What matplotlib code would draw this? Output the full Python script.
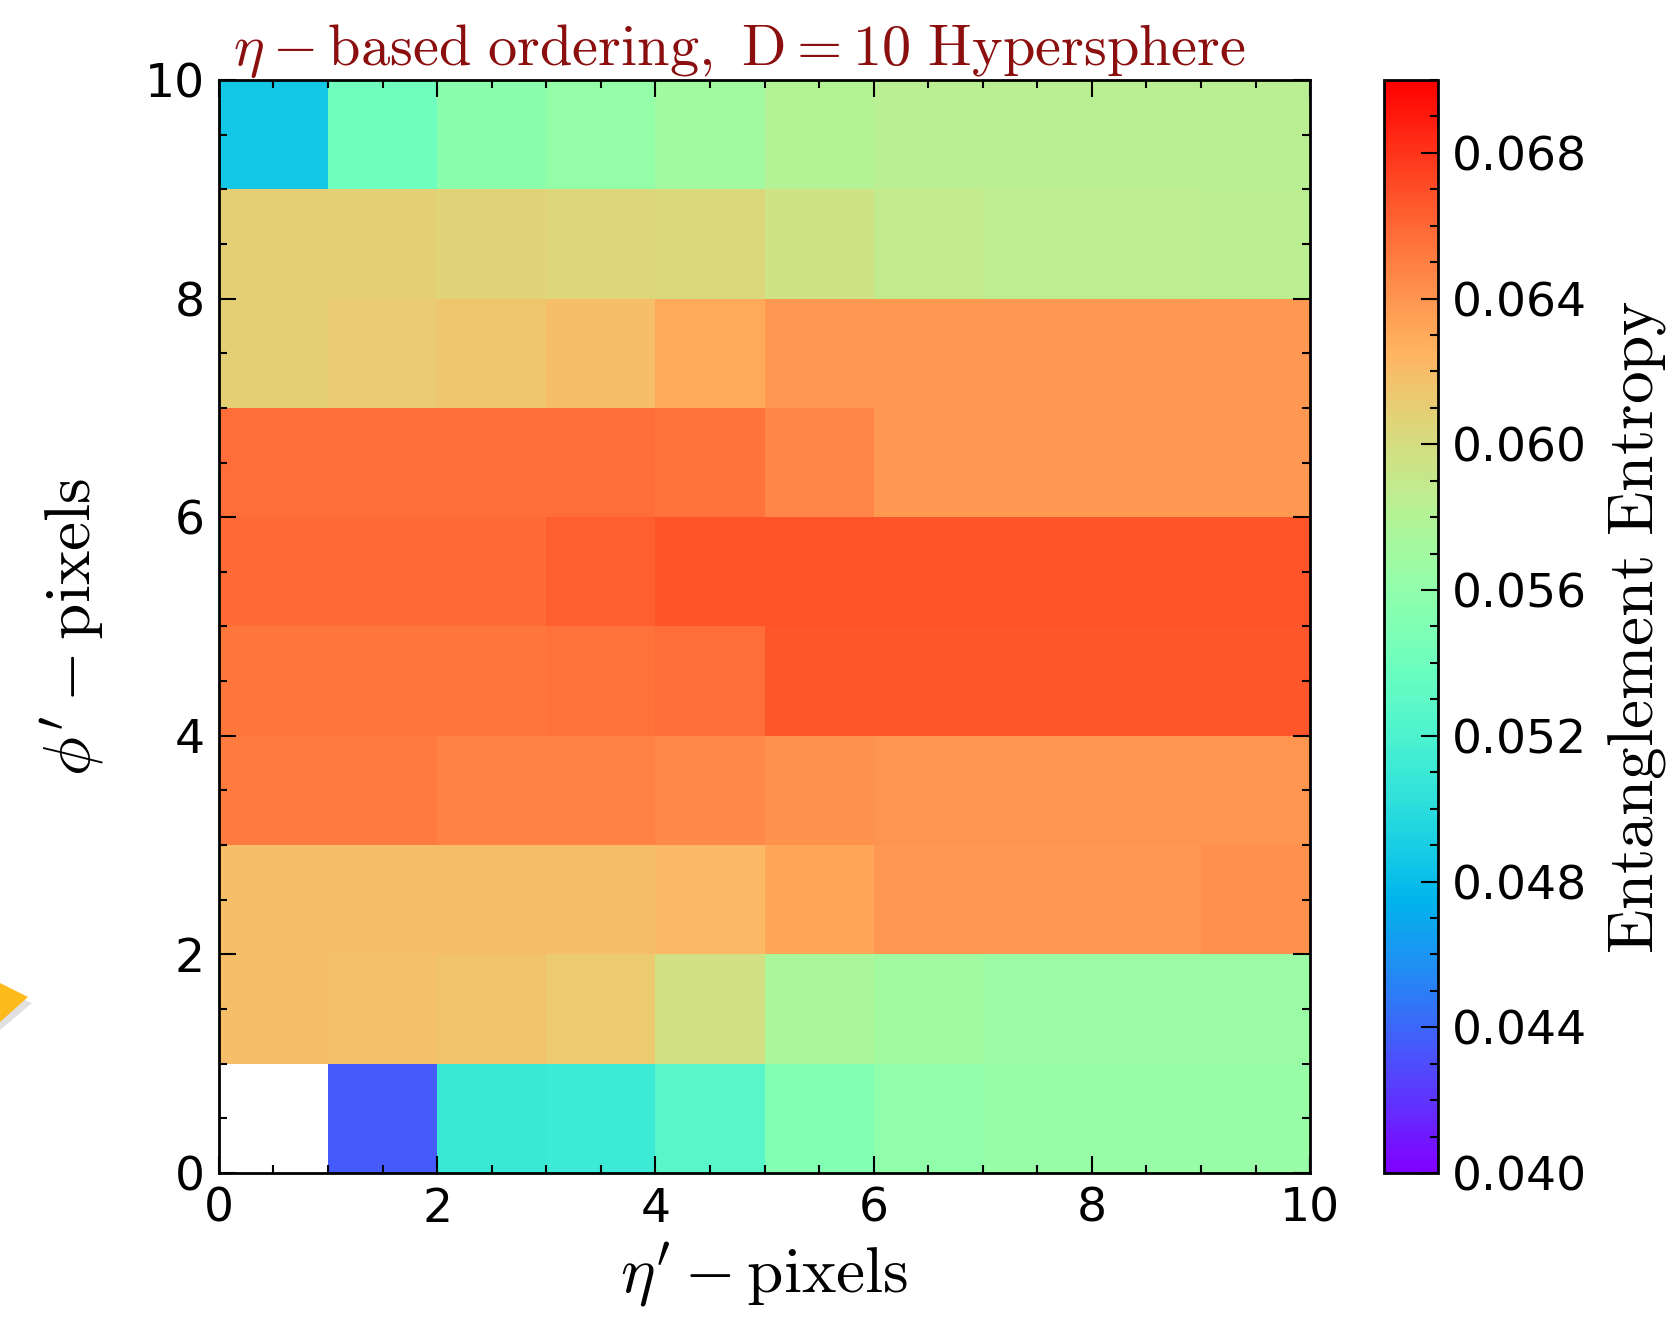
#!/usr/bin/env python3
import numpy as np
import matplotlib
matplotlib.use('Agg')
import matplotlib.pyplot as plt
from matplotlib.patches import Polygon

# entanglement entropy per (eta', phi') pixel, one list per phi' row (bottom to top)
phi_row_0 = [np.nan, 0.0434, 0.0509, 0.0511, 0.0526, 0.0552, 0.0560, 0.0565, 0.0565, 0.0565]
phi_row_1 = [0.0620, 0.0619, 0.0616, 0.0613, 0.0597, 0.0575, 0.0571, 0.0566, 0.0566, 0.0566]
phi_row_2 = [0.0620, 0.0620, 0.0620, 0.0620, 0.0622, 0.0632, 0.0639, 0.0639, 0.0639, 0.0642]
phi_row_3 = [0.0651, 0.0651, 0.0649, 0.0649, 0.0645, 0.0641, 0.0640, 0.0640, 0.0640, 0.0640]
phi_row_4 = [0.0654, 0.0654, 0.0654, 0.0655, 0.0657, 0.0667, 0.0667, 0.0667, 0.0667, 0.0667]
phi_row_5 = [0.0658, 0.0658, 0.0658, 0.0663, 0.0668, 0.0668, 0.0668, 0.0668, 0.0668, 0.0668]
phi_row_6 = [0.0657, 0.0657, 0.0657, 0.0657, 0.0655, 0.0647, 0.0638, 0.0638, 0.0638, 0.0638]
phi_row_7 = [0.0609, 0.0612, 0.0615, 0.0620, 0.0630, 0.0638, 0.0638, 0.0638, 0.0638, 0.0638]
phi_row_8 = [0.0609, 0.0609, 0.0607, 0.0605, 0.0603, 0.0595, 0.0589, 0.0587, 0.0586, 0.0585]
phi_row_9 = [0.0486, 0.0540, 0.0556, 0.0562, 0.0571, 0.0580, 0.0583, 0.0583, 0.0583, 0.0583]

eta_edges = np.arange(0, 11)
phi_edges = np.arange(0, 11)
cbar_ticks = [0.040, 0.044, 0.048, 0.052, 0.056, 0.060, 0.064, 0.068]

entropy = np.array([phi_row_0, phi_row_1, phi_row_2, phi_row_3, phi_row_4,
                    phi_row_5, phi_row_6, phi_row_7, phi_row_8, phi_row_9])

plt.rcParams['mathtext.fontset'] = 'cm'
plt.rcParams['font.size'] = 34

fig = plt.figure(figsize=(16.75, 13.17), dpi=100)
ax = fig.add_axes([0.1307, 0.1093, 0.6515, 0.8300])
cax = fig.add_axes([0.8263, 0.1093, 0.0322, 0.8300])

cmap = plt.get_cmap('rainbow').copy()
cmap.set_bad('white')
mesh = ax.pcolormesh(eta_edges, phi_edges, np.ma.masked_invalid(entropy),
                     cmap=cmap, vmin=0.040, vmax=0.070)

ax.set_xlim(0, 10)
ax.set_ylim(0, 10)
ax.set_xticks([0, 2, 4, 6, 8, 10])
ax.set_yticks([0, 2, 4, 6, 8, 10])
ax.set_xticks(np.arange(0, 10.01, 0.5), minor=True)
ax.set_yticks(np.arange(0, 10.01, 0.5), minor=True)
ax.tick_params(which='both', direction='in', top=True, right=True, width=1.5)
ax.tick_params(which='major', length=12, labelsize=34, pad=10)
ax.tick_params(which='minor', length=6)
for side in ax.spines.values():
    side.set_linewidth(2)

ax.set_title(r'$\eta - \mathrm{based\ ordering,\ D=10\ Hypersphere}$',
             color='#8b0f0f', fontsize=42, pad=6)
ax.title.set_x(0.477)
ax.set_xlabel(r"$\eta' - \mathrm{pixels}$", fontsize=47, labelpad=6)
ax.set_ylabel(r"$\phi' - \mathrm{pixels}$", fontsize=47, labelpad=28)

cb = fig.colorbar(mesh, cax=cax, ticks=cbar_ticks)
cb.ax.set_yticklabels(['%.3f' % t for t in cbar_ticks])
cb.ax.set_yticks(np.arange(0.040, 0.0701, 0.001), minor=True)
cb.ax.tick_params(which='both', direction='in', right=True, left=False, width=1.5)
cb.ax.tick_params(which='major', length=12, labelsize=34, pad=10)
cb.ax.tick_params(which='minor', length=6)
cb.outline.set_linewidth(2)
cb.set_label(r'$\mathrm{Entanglement\ Entropy}$', fontsize=47, labelpad=12)

# yellow pointer peeking in at the left edge
H = 1317.0
W = 1675.0
shadow = [(0, 990), (32, 1003), (0, 1030)]
pointer = [(0, 983), (28, 997), (0, 1022)]
fig.patches.append(Polygon([(x / W, 1 - y / H) for x, y in shadow], closed=True,
                           transform=fig.transFigure, facecolor='#cccccc',
                           edgecolor='none', alpha=0.6))
fig.patches.append(Polygon([(x / W, 1 - y / H) for x, y in pointer], closed=True,
                           transform=fig.transFigure, facecolor='#fdbb1b',
                           edgecolor='none'))

fig.savefig('out.png', dpi=100)
